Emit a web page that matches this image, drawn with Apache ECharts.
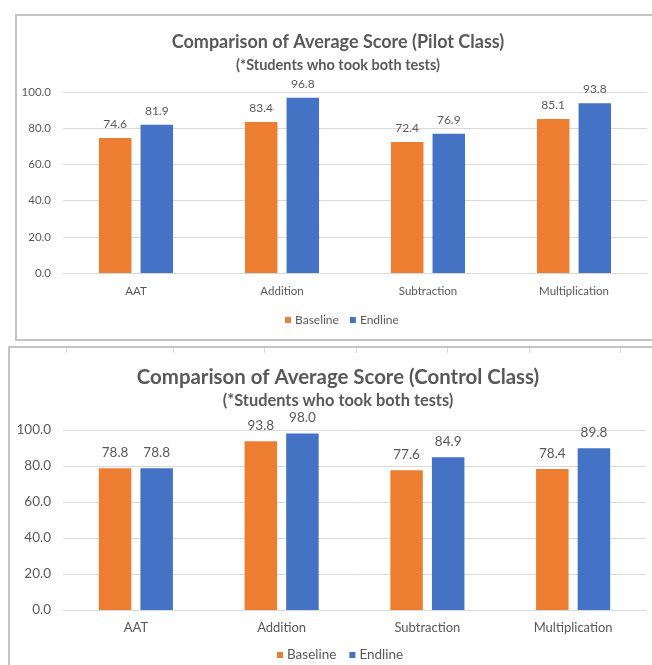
<!DOCTYPE html>
<html>
<head>
<meta charset="utf-8">
<script src="https://cdn.jsdelivr.net/npm/echarts@6/dist/echarts.min.js"></script>
<style>
html,body{margin:0;padding:0;background:#fff;}
#c{width:652px;height:665px;}
</style>
</head>
<body>
<div id="c"></div>
<script>
var categories = ['AAT', 'Addition', 'Subtraction', 'Multiplication'];
var seriesNames = ['Baseline', 'Endline'];
var pilotBaseline = [74.6, 83.4, 72.4, 85.1];
var pilotEndline = [81.9, 96.8, 76.9, 93.8];
var controlBaseline = [78.8, 93.8, 77.6, 78.4];
var controlEndline = [78.8, 98.0, 84.9, 89.8];
var pilotTitle = 'Comparison of Average Score (Pilot Class)';
var controlTitle = 'Comparison of Average Score (Control Class)';
var subTitle = '(*Students who took both tests)';
var yMin = 0, yMax = 100, yStep = 20;

var FONT = 'Lato';
var TXT = '#595959';
var GRID = '#d9d9d9';
var ORANGE = '#ED7D31';
var BLUE = '#4472C4';

var chart = echarts.init(document.getElementById('c'), null, {renderer: 'canvas'});

function yAxis(idx, fs) {
  return {
    type: 'value', gridIndex: idx, min: yMin, max: yMax, interval: yStep,
    axisLine: {show: false}, axisTick: {show: false},
    splitLine: {lineStyle: {color: GRID, width: 1}},
    axisLabel: {color: TXT, fontFamily: FONT, fontSize: fs, margin: 12,
      formatter: function (v) { return v.toFixed(1); }}
  };
}
function xAxis(idx, fs, margin) {
  return {
    type: 'category', gridIndex: idx, data: categories,
    axisLine: {lineStyle: {color: GRID, width: 1}}, axisTick: {show: false},
    axisLabel: {color: TXT, fontFamily: FONT, fontSize: fs, margin: margin}
  };
}
function bar(name, data, idx, color, fs, dist) {
  return {
    type: 'bar', name: name, data: data, xAxisIndex: idx, yAxisIndex: idx,
    barWidth: 32.5, barGap: '28%',
    itemStyle: {color: color},
    label: {show: true, position: 'top', distance: dist, color: TXT,
      fontFamily: FONT, fontSize: fs,
      formatter: function (p) { return p.value.toFixed(1); }},
    emphasis: {disabled: true},
    animation: false
  };
}
function title(text, top, fs, lh) {
  return {text: text, left: 338, top: top, textAlign: 'center', padding: 0,
    textStyle: {color: TXT, fontFamily: FONT, fontWeight: 'bold', fontSize: fs, lineHeight: lh}};
}

var cellXs = [66, 173, 264, 356, 447, 529, 620];
var graphics = [
  {type: 'rect', shape: {x: 16, y: 15, width: 660, height: 325}, style: {fill: 'none', stroke: '#c4c4c4', lineWidth: 2}, z: 100},
  {type: 'rect', shape: {x: 9, y: 347, width: 660, height: 340}, style: {fill: 'none', stroke: '#c4c4c4', lineWidth: 2}, z: 100}
];
cellXs.forEach(function (x) {
  graphics.push({type: 'line', shape: {x1: x + 0.5, y1: 348, x2: x + 0.5, y2: 353}, style: {stroke: '#d8d8d8', lineWidth: 1}, z: 100});
});

chart.setOption({
  animation: false,
  backgroundColor: '#fff',
  textStyle: {fontFamily: FONT},
  title: [
    title(pilotTitle, 31, 18, 23),
    title(subTitle, 56.5, 14.5, 17),
    title(controlTitle, 365, 20.4, 25),
    title(subTitle, 391.5, 16.4, 19)
  ],
  legend: [
    {data: seriesNames, left: 285, top: 314, padding: 0, itemWidth: 6, itemHeight: 6, itemGap: 11, icon: 'rect',
      selectedMode: false, textStyle: {color: TXT, fontFamily: FONT, fontSize: 12, padding: [0, 0, 0, -1]}},
    {data: seriesNames, left: 277, top: 648, padding: 0, itemWidth: 6, itemHeight: 6, itemGap: 13, icon: 'rect',
      selectedMode: false, textStyle: {color: TXT, fontFamily: FONT, fontSize: 13.5, padding: [0, 0, 0, -1]}}
  ],
  grid: [
    {left: 63, width: 584, top: 92, height: 181, containLabel: false},
    {left: 63, width: 583, top: 430, height: 180, containLabel: false}
  ],
  xAxis: [xAxis(0, 11.5, 12), xAxis(1, 13, 11.5)],
  yAxis: [yAxis(0, 11.5), yAxis(1, 13.5)],
  series: [
    bar(seriesNames[0], pilotBaseline, 0, ORANGE, 12, 8),
    bar(seriesNames[1], pilotEndline, 0, BLUE, 12, 8),
    bar(seriesNames[0], controlBaseline, 1, ORANGE, 13.5, 8.5),
    bar(seriesNames[1], controlEndline, 1, BLUE, 13.5, 8.5)
  ],
  graphic: graphics
});
</script>
</body>
</html>
